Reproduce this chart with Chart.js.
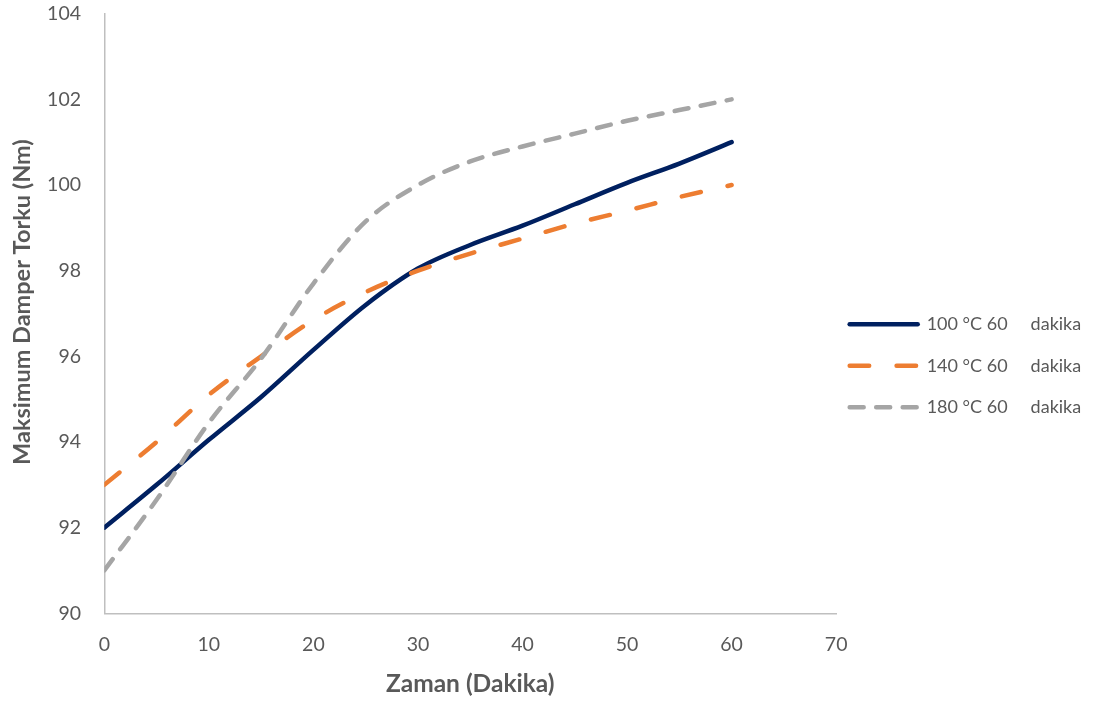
<!DOCTYPE html>
<html>
<head>
<meta charset="utf-8">
<script src="https://cdn.jsdelivr.net/npm/chart.js@4.4.1/dist/chart.umd.min.js"></script>
<style>
  html, body { margin: 0; padding: 0; background: #ffffff; }
  #wrap { width: 1097px; height: 703px; }
</style>
</head>
<body>
<div id="wrap"><canvas id="chart" width="1097" height="703"></canvas></div>
<script>
// Time (minutes) and maximum damper torque (Nm) for each curing temperature
const minutes   = [0, 5, 10, 15, 20, 25, 30, 35, 40, 45, 50, 55, 60];
const torque100 = [92.0, 93.0, 94.05, 95.05, 96.15, 97.2, 98.05, 98.6, 99.05, 99.55, 100.05, 100.5, 101.0];
const torque140 = [93.0, 94.0, 95.1, 96.0, 96.85, 97.5, 98.0, 98.4, 98.75, 99.1, 99.4, 99.72, 100.0];
const torque180 = [91.0, 92.65, 94.45, 95.95, 97.7, 99.15, 100.0, 100.55, 100.9, 101.2, 101.5, 101.75, 102.0];
const seriesLabels = ['100 °C 60     dakika', '140 °C 60     dakika', '180 °C 60     dakika'];
const xTickValues = [0, 10, 20, 30, 40, 50, 60, 70];
const yTickValues = [90, 92, 94, 96, 98, 100, 102, 104];

const FONT = 'Lato, "Open Sans", sans-serif';
const TEXT = '#595959';
const AXIS = '#BFBFBF';

const toPoints = (ys) => minutes.map((m, i) => ({ x: m, y: ys[i] }));

const lineStyle = {
  borderWidth: 4.5,
  borderCapStyle: 'round',
  borderJoinStyle: 'round',
  pointRadius: 0,
  pointHoverRadius: 0,
  pointStyle: 'line',
  fill: false,
  cubicInterpolationMode: 'monotone'
};

new Chart(document.getElementById('chart'), {
  type: 'line',
  data: {
    datasets: [
      Object.assign({ label: seriesLabels[0], data: toPoints(torque100), borderColor: '#002060', backgroundColor: '#002060', borderDash: [], order: 2 }, lineStyle),
      Object.assign({ label: seriesLabels[1], data: toPoints(torque140), borderColor: '#ED7D31', backgroundColor: '#ED7D31', borderDash: [19.5, 27.4], order: 1 }, lineStyle),
      Object.assign({ label: seriesLabels[2], data: toPoints(torque180), borderColor: '#A5A5A5', backgroundColor: '#A5A5A5', borderDash: [14, 12.5], order: 0 }, lineStyle)
    ]
  },
  options: {
    responsive: false,
    animation: false,
    devicePixelRatio: 1,
    layout: { padding: { top: 13.7, left: 0, right: 5.8, bottom: 0 } },
    plugins: {
      tooltip: { enabled: false },
      legend: {
        position: 'right',
        align: 'center',
        title: { display: true, text: '', padding: { top: 10.6, bottom: 0 } },
        labels: {
          usePointStyle: true,
          pointStyleWidth: 68,
          padding: 13.5,
          color: TEXT,
          font: { family: FONT, size: 18, lineHeight: 28 / 18 },
          generateLabels: (chart) => chart.data.datasets.map((ds, i) => ({
            text: [ds.label],
            fillStyle: ds.borderColor,
            strokeStyle: ds.borderColor,
            lineWidth: ds.borderWidth,
            lineDash: ds.borderDash,
            lineCap: 'round',
            lineJoin: 'round',
            pointStyle: 'line',
            rotation: 0,
            fontColor: TEXT,
            hidden: false,
            datasetIndex: i
          }))
        }
      }
    },
    scales: {
      x: {
        type: 'linear',
        min: xTickValues[0],
        max: xTickValues[xTickValues.length - 1],
        afterBuildTicks: (s) => { s.ticks = xTickValues.map(v => ({ value: v })); },
        afterFit: (s) => { s.height = 89.7; },
        grid: { drawOnChartArea: false, drawTicks: false },
        border: { display: true, color: AXIS, width: 1.5 },
        ticks: { color: TEXT, padding: 19.5, maxRotation: 0, font: { family: FONT, size: 19.5 } },
        title: {
          display: true,
          text: 'Zaman (Dakika)',
          color: TEXT,
          font: { family: FONT, size: 24.5, weight: 'bold' },
          padding: { top: 0, bottom: 4 }
        }
      },
      y: {
        type: 'linear',
        min: yTickValues[0],
        max: yTickValues[yTickValues.length - 1],
        afterBuildTicks: (s) => { s.ticks = yTickValues.map(v => ({ value: v })); },
        afterFit: (s) => { s.width = 104.3; s.paddingTop = 0; s.paddingBottom = 0; },
        grid: { drawOnChartArea: false, drawTicks: false },
        border: { display: true, color: AXIS, width: 1.5 },
        ticks: { color: TEXT, padding: 23.3, font: { family: FONT, size: 19.5 } },
        title: {
          display: true,
          text: '    Maksimum Damper Torku (Nm)',
          color: TEXT,
          font: { family: FONT, size: 23.5, weight: 'bold' },
          padding: { top: 8, bottom: 0 }
        }
      }
    }
  }
});
</script>
</body>
</html>
